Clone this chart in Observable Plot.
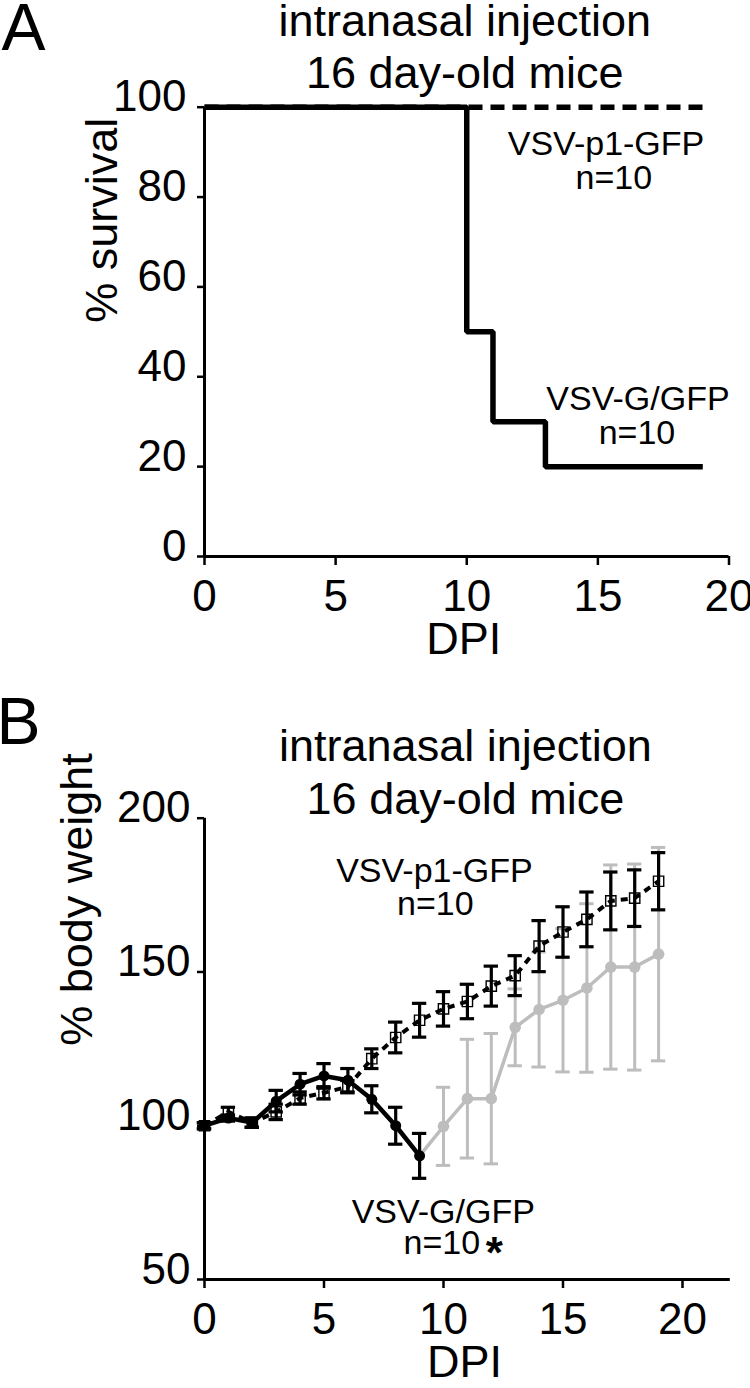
<!DOCTYPE html>
<html>
<head>
<meta charset="utf-8">
<script src="https://cdn.jsdelivr.net/npm/d3@7"></script>
<script src="https://cdn.jsdelivr.net/npm/@observablehq/plot@0.6"></script>
<style>
html, body { margin: 0; padding: 0; background: #fff; }
#fig { position: relative; width: 750px; height: 1388px; overflow: hidden; background: #fff; }
#fig svg { position: absolute; left: 0; }
</style>
</head>
<body>
<div id="fig"></div>
<script>
// ---------- Panel A : survival ----------
const survTicksY = [0, 20, 40, 60, 80, 100];
const dpiTicks = [0, 5, 10, 15, 20];
const survDaysG = [0, 10, 11, 13, 19];
const survG = [100, 50, 30, 20, 20];
const survDaysP1 = [0, 19];
const survP1 = [100, 100];

// ---------- Panel B : body weight ----------
const weightTicksY = [50, 100, 150, 200];
const p1Days = [0, 1, 2, 3, 4, 5, 6, 7, 8, 9, 10, 11, 12, 13, 14, 15, 16, 17, 18, 19];
const p1Mean = [100, 104.5, 101, 104.5, 109, 110.7, 112.7, 121.8, 128.7, 134.3, 138, 140.4, 145.4, 148.8, 158.4, 163, 167.1, 173.1, 174, 179.5];
const p1Err  = [1, 1.5, 1.5, 2.5, 2, 2, 2, 3.2, 5, 5.5, 5.6, 5.6, 6.5, 6.5, 8.3, 8.2, 8.9, 9.4, 9.2, 9.3];
const gDays = [0, 1, 2, 3, 4, 5, 6, 7, 8, 9];
const gMean = [100, 102.5, 101, 108, 113.5, 116.2, 114.8, 108.6, 100, 90.2];
const gErr  = [1, 1, 1.5, 3.5, 3.5, 4, 3.8, 4.4, 6, 7.3];
const gLateDays = [10, 11, 12, 13, 14, 15, 16, 17, 18, 19];
const gLateMean = [99.8, 108.8, 108.8, 132, 137.8, 140.8, 144.8, 151.6, 151.6, 155.8];
const gLateErr  = [12.7, 19.3, 21.2, 12.5, 18.7, 23.3, 27.4, 33.2, 33.5, 34.7];

const titleText = "intranasal injection\n16 day-old mice";

const FONT = '"Liberation Sans", Arial, Helvetica, sans-serif';
const GREY = "#bdbdbd";

const pts = (xs, ys, es) => xs.map((x, i) => ({x, y: ys[i], e: es ? es[i] : 0}));

// ===== Panel A =====
const survGData = pts(survDaysG, survG);
const survP1Data = pts(survDaysP1, survP1);

const svgA = Plot.plot({
  width: 750, height: 660,
  marginLeft: 204, marginRight: 21.5, marginTop: 106.7, marginBottom: 104,
  x: {domain: [0, 20]},
  y: {domain: [0, 100]},
  style: {fontFamily: FONT, background: "transparent", overflow: "visible", color: "black"},
  marks: [
    Plot.axisY(survTicksY, {tickSize: 7, strokeWidth: 2.5, fill: "none", label: null}),
    Plot.axisY(survTicksY, {tickSize: 7, tickPadding: 11, stroke: "none", fill: "black", fontSize: 44, dy: -10, label: null}),
    Plot.axisX(dpiTicks, {tickSize: 9, strokeWidth: 2.5, fill: "none", label: null}),
    Plot.axisX(dpiTicks, {tickSize: 9, tickPadding: 14, stroke: "none", fill: "black", fontSize: 44, label: null}),
    Plot.ruleX([0], {y1: 0, y2: 100, strokeWidth: 3}),
    Plot.ruleY([0], {x1: 0, x2: 20, strokeWidth: 3}),
    Plot.line(survP1Data, {x: "x", y: "y", strokeWidth: 5.5, strokeDasharray: "14,8", strokeLinecap: "butt"}),
    Plot.line(survGData, {x: "x", y: "y", curve: "step-after", strokeWidth: 5.5, strokeLinejoin: "miter", strokeLinecap: "butt"}),
    Plot.text(["VSV-p1-GFP"], {x: 15.31, y: 89.25, text: d => d, fontSize: 34, lineAnchor: "bottom", textAnchor: "middle"}),
    Plot.text(["n=10"], {x: 15.61, y: 81.9, text: d => d, fontSize: 34, lineAnchor: "bottom", textAnchor: "middle"}),
    Plot.text(["VSV-G/GFP"], {x: 16.53, y: 32.5, text: d => d, fontSize: 34, lineAnchor: "bottom", textAnchor: "middle"}),
    Plot.text(["n=10"], {x: 16.49, y: 25.15, text: d => d, fontSize: 34, lineAnchor: "bottom", textAnchor: "middle"}),
    Plot.text([titleText], {frameAnchor: "top", text: d => d, dx: -2, dy: -19.4, lineAnchor: "bottom", lineHeight: 1.162, fontSize: 45}),
    Plot.text(["A"], {frameAnchor: "top-left", text: d => d, dx: -203, dy: -56.7, lineAnchor: "bottom", textAnchor: "start", fontSize: 66}),
    Plot.text(["DPI"], {frameAnchor: "bottom", text: d => d, dx: -3, dy: 97, lineAnchor: "bottom", fontSize: 45}),
    Plot.text(["% survival"], {frameAnchor: "left", text: d => d, dx: -101.5, dy: -9, rotate: -90, lineAnchor: "middle", fontSize: 45})
  ]
});
svgA.style.top = "0px";

// ===== Panel B =====
const p1Data = pts(p1Days, p1Mean, p1Err);
const gData = pts(gDays, gMean, gErr);
const gLateData = pts(gLateDays, gLateMean, gLateErr);
const gLateLine = [gData[gData.length - 1], ...gLateData];
const CAP = 0.3;

const errMarks = (data, color, sw) => [
  Plot.ruleX(data, {x: "x", y1: d => d.y - d.e, y2: d => d.y + d.e, stroke: color, strokeWidth: sw}),
  Plot.ruleY(data, {y: d => d.y + d.e, x1: d => d.x - CAP, x2: d => d.x + CAP, stroke: color, strokeWidth: sw}),
  Plot.ruleY(data, {y: d => d.y - d.e, x1: d => d.x - CAP, x2: d => d.x + CAP, stroke: color, strokeWidth: sw})
];

const svgB = Plot.plot({
  width: 750, height: 728,
  marginLeft: 204, marginRight: 20.2, marginTop: 157.7, marginBottom: 109,
  x: {domain: [0, 22]},
  y: {domain: [50, 200]},
  style: {fontFamily: FONT, background: "transparent", overflow: "visible", color: "black"},
  marks: [
    Plot.axisY(weightTicksY, {tickSize: 7, strokeWidth: 2.5, fill: "none", label: null}),
    Plot.axisY(weightTicksY, {tickSize: 7, tickPadding: 7, stroke: "none", fill: "black", fontSize: 44, dy: -10, label: null}),
    Plot.axisX(dpiTicks, {tickSize: 9, strokeWidth: 2.5, fill: "none", label: null}),
    Plot.axisX(dpiTicks, {tickSize: 9, tickPadding: 14, stroke: "none", fill: "black", fontSize: 44, label: null}),
    Plot.ruleX([0], {y1: 50, y2: 200, strokeWidth: 3}),
    Plot.ruleY([50], {x1: 0, x2: 22, strokeWidth: 3}),
    // grey (surviving VSV-G/GFP)
    ...errMarks(gLateData, GREY, 3),
    Plot.line(gLateLine, {x: "x", y: "y", stroke: GREY, strokeWidth: 3.5}),
    Plot.dot(gLateData, {x: "x", y: "y", r: 5.8, fill: GREY, stroke: "none"}),
    // black
    ...errMarks(p1Data, "black", 3.2),
    ...errMarks(gData, "black", 3.2),
    Plot.line(p1Data, {x: "x", y: "y", stroke: "black", strokeWidth: 4, strokeDasharray: "7,6", strokeLinecap: "butt"}),
    Plot.line(gData, {x: "x", y: "y", stroke: "black", strokeWidth: 4.5}),
    Plot.dot(p1Data, {x: "x", y: "y", symbol: "square", r: 5.8, fill: "none", stroke: "black", strokeWidth: 1.4}),
    Plot.dot(gData, {x: "x", y: "y", r: 5.5, fill: "black", stroke: "none"}),
    // annotations
    Plot.text(["VSV-p1-GFP"], {x: 9.62, y: 179.1, text: d => d, fontSize: 34, lineAnchor: "bottom", textAnchor: "middle"}),
    Plot.text(["n=10"], {x: 9.66, y: 168.4, text: d => d, fontSize: 34, lineAnchor: "bottom", textAnchor: "middle"}),
    Plot.text(["VSV-G/GFP"], {x: 9.99, y: 68.5, text: d => d, fontSize: 34, lineAnchor: "bottom", textAnchor: "middle"}),
    Plot.text(["n=10"], {x: 9.93, y: 58.45, text: d => d, fontSize: 34, lineAnchor: "bottom", textAnchor: "middle"}),
    Plot.text(["*"], {x: 12.13, y: 53.9, text: d => d, fontSize: 44, fontWeight: "bold", lineAnchor: "bottom", textAnchor: "middle"}),
    Plot.text([titleText], {frameAnchor: "top", text: d => d, dx: -2, dy: -4.7, lineAnchor: "bottom", lineHeight: 1.178, fontSize: 45}),
    Plot.text(["B"], {frameAnchor: "top-left", text: d => d, dx: -208, dy: -74.7, lineAnchor: "bottom", textAnchor: "start", fontSize: 66}),
    Plot.text(["DPI"], {frameAnchor: "bottom", text: d => d, dx: -3, dy: 97, lineAnchor: "bottom", fontSize: 45}),
    Plot.text(["% body weight"], {frameAnchor: "left", text: d => d, dx: -127.4, dy: -3, rotate: -90, lineAnchor: "middle", fontSize: 45})
  ]
});
svgB.style.top = "660px";

const fig = document.getElementById("fig");
fig.appendChild(svgA);
fig.appendChild(svgB);
</script>
</body>
</html>
